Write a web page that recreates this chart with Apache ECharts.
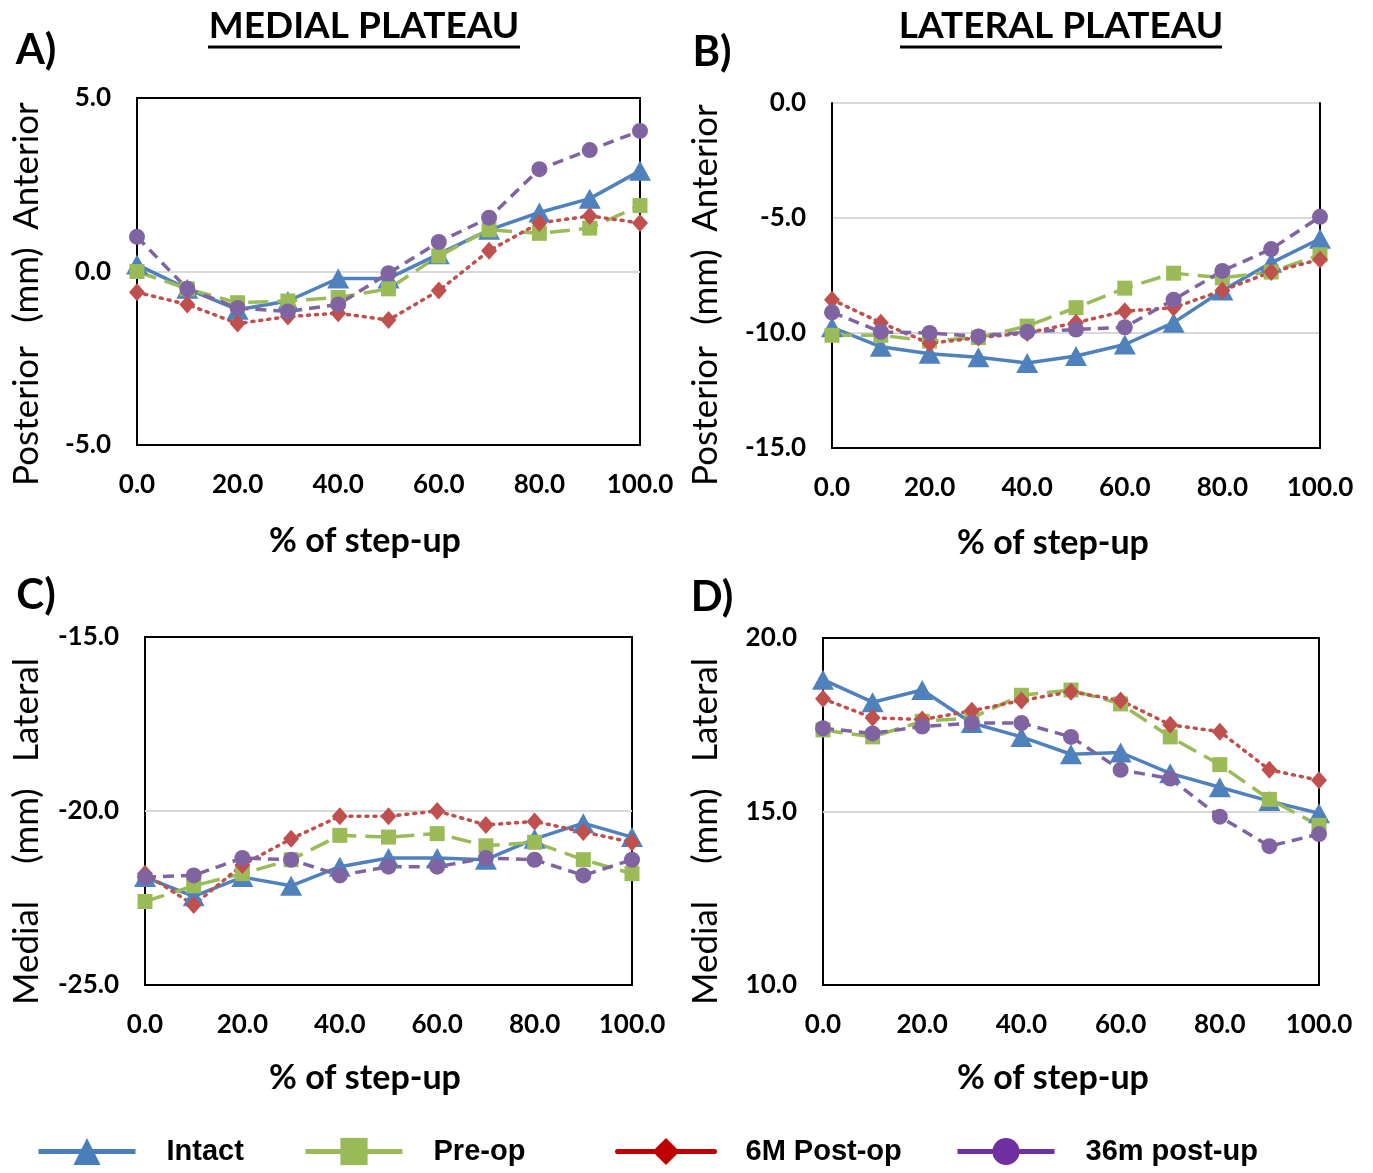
<!DOCTYPE html>
<html>
<head>
<meta charset="utf-8">
<script src="https://cdn.jsdelivr.net/npm/echarts@6/dist/echarts.min.js"></script>
<style>
  html, body { margin: 0; padding: 0; background: #fff; }
  #main { width: 1373px; height: 1173px; }
</style>
</head>
<body>
<div id="main"></div>
<script>
// % of step-up
const pct = [0, 10, 20, 30, 40, 50, 60, 70, 80, 90, 100];
const seriesNames = ['Intact', 'Pre-op', '6M Post-op', '36m post-up'];

// A) medial plateau, posterior(-)/anterior(+) mm
const medAP_intact = [0.2, -0.5, -1.1, -0.85, -0.2, -0.2, 0.5, 1.2, 1.7, 2.1, 2.9];
const medAP_preop  = [0.0, -0.5, -0.9, -0.85, -0.75, -0.5, 0.45, 1.2, 1.1, 1.25, 1.9];
const medAP_6m     = [-0.6, -0.95, -1.5, -1.3, -1.2, -1.4, -0.55, 0.6, 1.4, 1.6, 1.4];
const medAP_36m    = [1.0, -0.5, -1.05, -1.15, -0.95, -0.05, 0.85, 1.55, 2.95, 3.5, 4.05];

// B) lateral plateau, posterior/anterior mm
const latAP_intact = [-9.75, -10.6, -10.9, -11.05, -11.3, -11.0, -10.5, -9.55, -8.15, -6.95, -5.9];
const latAP_preop  = [-10.1, -10.1, -10.35, -10.2, -9.7, -8.9, -8.05, -7.4, -7.6, -7.35, -6.6];
const latAP_6m     = [-8.55, -9.55, -10.45, -10.2, -10.0, -9.55, -9.05, -8.9, -8.15, -7.35, -6.8];
const latAP_36m    = [-9.1, -9.95, -10.0, -10.15, -9.95, -9.85, -9.75, -8.55, -7.3, -6.35, -4.95];

// C) medial plateau, medial/lateral mm
const medML_intact = [-21.9, -22.45, -21.9, -22.15, -21.6, -21.35, -21.35, -21.4, -20.8, -20.35, -20.75];
const medML_preop  = [-22.6, -22.15, -21.8, -21.4, -20.7, -20.75, -20.65, -21.0, -20.9, -21.4, -21.8];
const medML_6m     = [-21.8, -22.7, -21.55, -20.8, -20.15, -20.15, -20.0, -20.4, -20.3, -20.6, -20.9];
const medML_36m    = [-21.9, -21.85, -21.35, -21.4, -21.85, -21.6, -21.6, -21.35, -21.4, -21.85, -21.4];

// D) lateral plateau, medial/lateral mm
const latML_intact = [18.8, 18.15, 18.5, 17.55, 17.15, 16.65, 16.7, 16.1, 15.7, 15.3, 14.95];
const latML_preop  = [17.35, 17.15, 17.6, 17.7, 18.35, 18.5, 18.1, 17.15, 16.35, 15.35, 14.6];
const latML_6m     = [18.25, 17.7, 17.65, 17.9, 18.2, 18.45, 18.2, 17.5, 17.3, 16.2, 15.9];
const latML_36m    = [17.4, 17.25, 17.45, 17.55, 17.55, 17.15, 16.2, 15.95, 14.85, 14.0, 14.35];

// y ranges per panel
const yMin = [-5, -15, -25, 10];
const yMax = [5, 0, -15, 20];

var myChart = echarts.init(document.getElementById('main'));

const panels = [
  [medAP_intact, medAP_preop, medAP_6m, medAP_36m],
  [latAP_intact, latAP_preop, latAP_6m, latAP_36m],
  [medML_intact, medML_preop, medML_6m, medML_36m],
  [latML_intact, latML_preop, latML_6m, latML_36m]
];

const font = 'Lato';
const styles = [
  { color: '#4F81BD', symbol: 'triangle', symbolSize: [22, 20], line: { width: 3.5, type: 'solid' } },
  { color: '#9BBB59', symbol: 'rect', symbolSize: 15, line: { width: 3.5, type: [20, 9] } },
  { color: '#C0504D', symbol: 'diamond', symbolSize: [16, 18], line: { width: 3.5, type: [2, 6], cap: 'round' } },
  { color: '#8064A2', symbol: 'circle', symbolSize: 16, line: { width: 3.5, type: [11, 7] } }
];
const legendColors = ['#4A7EBB', '#9BBB59', '#C00000', '#7030A0'];
const legendLeft = [36, 303, 615, 955];

const grids = [
  { left: 137, top: 98, width: 503, height: 347, show: true, borderColor: '#000', borderWidth: 2 },
  { left: 832, top: 103, width: 488, height: 345, show: false },
  { left: 145, top: 637, width: 487, height: 348, show: true, borderColor: '#000', borderWidth: 2 },
  { left: 823, top: 638, width: 496, height: 347, show: true, borderColor: '#000', borderWidth: 2 }
];

const labelStyle = { color: '#000', fontSize: 26, fontWeight: 'bold', fontFamily: font };

const xAxes = grids.map((g, i) => ({
  type: 'value', gridIndex: i, min: 0, max: 100, interval: 20,
  axisLine: { show: i === 1, onZero: false, lineStyle: { color: '#000', width: 2 } },
  axisTick: { show: false },
  splitLine: { show: false },
  axisLabel: Object.assign({ margin: 27, formatter: v => v.toFixed(1) }, labelStyle)
}));

const yAxes = grids.map((g, i) => ({
  type: 'value', gridIndex: i, min: yMin[i], max: yMax[i], interval: 5,
  axisLine: { show: i === 1, lineStyle: { color: '#000', width: 2 } },
  axisTick: { show: false },
  splitLine: {
    show: true, showMinLine: false, showMaxLine: i === 1,
    lineStyle: { color: '#D9D9D9', width: 2 }
  },
  axisLabel: Object.assign({ margin: 26, formatter: v => v.toFixed(1) }, labelStyle)
}));
// right border of panel B
yAxes.push({
  type: 'value', gridIndex: 1, position: 'right', min: yMin[1], max: yMax[1], interval: 5,
  axisLine: { show: true, lineStyle: { color: '#000', width: 2 } },
  axisTick: { show: false }, axisLabel: { show: false }, splitLine: { show: false }
});

const series = [];
panels.forEach((p, gi) => {
  p.forEach((vals, si) => {
    const s = styles[si];
    series.push({
      name: seriesNames[si],
      type: 'line',
      xAxisIndex: gi, yAxisIndex: gi,
      data: pct.map((x, k) => [x, vals[k]]),
      symbol: s.symbol,
      symbolSize: s.symbolSize,
      itemStyle: { color: s.color },
      lineStyle: Object.assign({ color: s.color }, s.line),
      animation: false
    });
  });
});

const legends = seriesNames.map((n, i) => ({
  left: legendLeft[i], top: 1137, padding: 0,
  itemWidth: 97, itemHeight: 34,
  selectedMode: false,
  data: [{
    name: n,
    itemStyle: { color: legendColors[i] },
    lineStyle: { color: legendColors[i], type: 'solid', width: 5 }
  }],
  textStyle: { color: '#000', fontSize: 29, fontWeight: 'bold', fontFamily: 'Liberation Sans', padding: [0, 0, 0, 26] }
}));

function txt(x, y, text, f, rot) {
  return {
    type: 'text', x: x, y: y, rotation: rot || 0,
    style: { text: text, font: f, fill: '#000', align: 'center', verticalAlign: 'middle' }
  };
}
const nameFont = '35px ' + font;
const xNameFont = 'bold 34px ' + font;
const graphic = [
  txt(364, 26, 'MEDIAL PLATEAU', 'bold 37px ' + font),
  txt(1061, 26, 'LATERAL PLATEAU', 'bold 37px ' + font),
  { type: 'line', shape: { x1: 208, y1: 47, x2: 520, y2: 47 }, style: { stroke: '#000', lineWidth: 3 } },
  { type: 'line', shape: { x1: 900, y1: 47, x2: 1222, y2: 47 }, style: { stroke: '#000', lineWidth: 3 } },
  txt(36, 50, 'A)', 'bold 42px ' + font),
  txt(712, 52, 'B)', 'bold 42px ' + font),
  txt(36, 595, 'C)', 'bold 42px ' + font),
  txt(712, 597, 'D)', 'bold 42px ' + font),
  txt(365, 541, '% of step-up', xNameFont),
  txt(1053, 543, '% of step-up', xNameFont),
  txt(365, 1078, '% of step-up', xNameFont),
  txt(1053, 1078, '% of step-up', xNameFont),
  txt(27, 166, 'Anterior', nameFont, Math.PI / 2),
  txt(27, 285, '(mm)', nameFont, Math.PI / 2),
  txt(27, 416, 'Posterior', nameFont, Math.PI / 2),
  txt(706, 168, 'Anterior', nameFont, Math.PI / 2),
  txt(706, 287, '(mm)', nameFont, Math.PI / 2),
  txt(706, 416, 'Posterior', nameFont, Math.PI / 2),
  txt(27, 710, 'Lateral', nameFont, Math.PI / 2),
  txt(27, 826, '(mm)', nameFont, Math.PI / 2),
  txt(27, 953, 'Medial', nameFont, Math.PI / 2),
  txt(706, 710, 'Lateral', nameFont, Math.PI / 2),
  txt(706, 826, '(mm)', nameFont, Math.PI / 2),
  txt(706, 953, 'Medial', nameFont, Math.PI / 2)
];

var option = {
  backgroundColor: '#fff',
  animation: false,
  grid: grids,
  xAxis: xAxes,
  yAxis: yAxes,
  legend: legends,
  series: series,
  graphic: graphic
};

myChart.setOption(option);
</script>
</body>
</html>
